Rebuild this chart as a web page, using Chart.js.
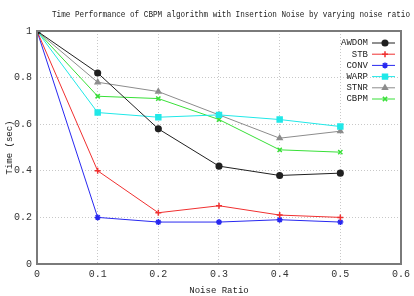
<!DOCTYPE html>
<html>
<head>
<meta charset="utf-8">
<script src="https://cdn.jsdelivr.net/npm/chart.js@4"></script>
<style>
  body { margin: 0; background: #fff; }
  canvas { display: block; }
</style>
</head>
<body>
<canvas id="chart" width="414" height="296"></canvas>
<script>
const noiseRatio = [0, 0.1, 0.2, 0.3, 0.4, 0.5];
const awdom = [1, 0.82, 0.58, 0.42, 0.38, 0.39];
const stb   = [1, 0.40, 0.22, 0.25, 0.21, 0.20];
const conv  = [1, 0.20, 0.18, 0.18, 0.19, 0.18];
const warp  = [1, 0.65, 0.63, 0.64, 0.62, 0.59];
const stnr  = [1, 0.78, 0.74, 0.64, 0.54, 0.57];
const cbpm  = [1, 0.72, 0.71, 0.62, 0.49, 0.48];
const xTicks = ["0", "0.1", "0.2", "0.3", "0.4", "0.5", "0.6"];
const yTicks = ["0", "0.2", "0.4", "0.6", "0.8", "1"];
const titleText = "Time Performance of CBPM algorithm with Insertion Noise by varying noise ratio";

const FONT = "'Liberation Mono', 'DejaVu Sans Mono', monospace";

function pts(values) {
  return values.map((v, i) => ({ x: noiseRatio[i], y: v }));
}

function series(label, values, color, style, radius) {
  return {
    label,
    data: pts(values),
    borderColor: color,
    backgroundColor: color,
    borderWidth: 1,
    pointStyle: style,
    pointRadius: radius,
    pointBorderWidth: 1.5,
    pointBorderColor: color,
    pointBackgroundColor: color
  };
}

const datasets = [
  series("AWDOM", awdom, "#202020", "circle", 2.8),
  series("STB", stb, "#f03030", "cross", 3),
  series("CONV", conv, "#2828f0", "star", 3),
  series("WARP", warp, "#20e8e8", "rect", 3.5),
  series("STNR", stnr, "#8c8c8c", "triangle", 2.8),
  series("CBPM", cbpm, "#38e038", "crossRot", 3)
];

// frame, title and inset legend
const extras = {
  id: "extras",
  afterDraw(chart) {
    const ctx = chart.ctx;
    const a = chart.chartArea;
    ctx.save();
    ctx.strokeStyle = "#7a7a7a";
    ctx.lineWidth = 2;
    ctx.strokeRect(a.left, a.top, a.right - a.left, a.bottom - a.top);

    ctx.fillStyle = "#222";
    ctx.font = "9px " + FONT;
    ctx.textAlign = "center";
    ctx.textBaseline = "middle";
    ctx.fillText(titleText, 231, 15, 358);

    ctx.textAlign = "right";
    chart.data.datasets.forEach((ds, i) => {
      const y = 43 + i * 11.2;
      ctx.fillStyle = "#222";
      ctx.fillText(ds.label, 368, y);
      ctx.strokeStyle = ds.borderColor;
      ctx.lineWidth = 1;
      ctx.beginPath();
      ctx.moveTo(372, y);
      ctx.lineTo(395, y);
      ctx.stroke();
      ctx.fillStyle = ds.pointBackgroundColor;
      ctx.strokeStyle = ds.pointBorderColor;
      ctx.lineWidth = 1.5;
      Chart.helpers.drawPoint(ctx, {
        pointStyle: ds.pointStyle,
        radius: ds.pointRadius,
        borderWidth: 1.5
      }, 385, y);
    });
    ctx.restore();
  }
};

new Chart(document.getElementById("chart"), {
  type: "line",
  data: { datasets },
  plugins: [extras],
  options: {
    responsive: false,
    animation: false,
    layout: { padding: { top: 31, right: 12, left: 0, bottom: 0 } },
    plugins: {
      legend: { display: false },
      tooltip: { enabled: false }
    },
    scales: {
      x: {
        type: "linear",
        min: 0,
        max: 0.6,
        afterFit(s) { s.height = 32; },
        afterBuildTicks(s) { s.ticks = xTicks.map(t => ({ value: Number(t) })); },
        ticks: {
          padding: 4,
          color: "#333",
          font: { family: FONT, size: 10 },
          callback: (v, i) => xTicks[i]
        },
        grid: { color: "#c8c8c8", drawTicks: false, lineWidth: 1 },
        border: { display: false, dash: [1, 2] },
        title: {
          display: true,
          text: "Noise Ratio",
          color: "#222",
          font: { family: FONT, size: 9 },
          padding: { top: 0, bottom: 0 }
        }
      },
      y: {
        min: 0,
        max: 1,
        afterFit(s) { s.width = 37; },
        afterBuildTicks(s) { s.ticks = yTicks.map(t => ({ value: Number(t) })); },
        ticks: {
          padding: 5,
          color: "#333",
          font: { family: FONT, size: 10 },
          callback: (v, i) => yTicks[i]
        },
        grid: { color: "#c8c8c8", drawTicks: false, lineWidth: 1 },
        border: { display: false, dash: [1, 2] },
        title: {
          display: true,
          text: "Time (sec)",
          color: "#222",
          font: { family: FONT, size: 9 },
          padding: { top: 4, bottom: 0 }
        }
      }
    }
  }
});
</script>
</body>
</html>
